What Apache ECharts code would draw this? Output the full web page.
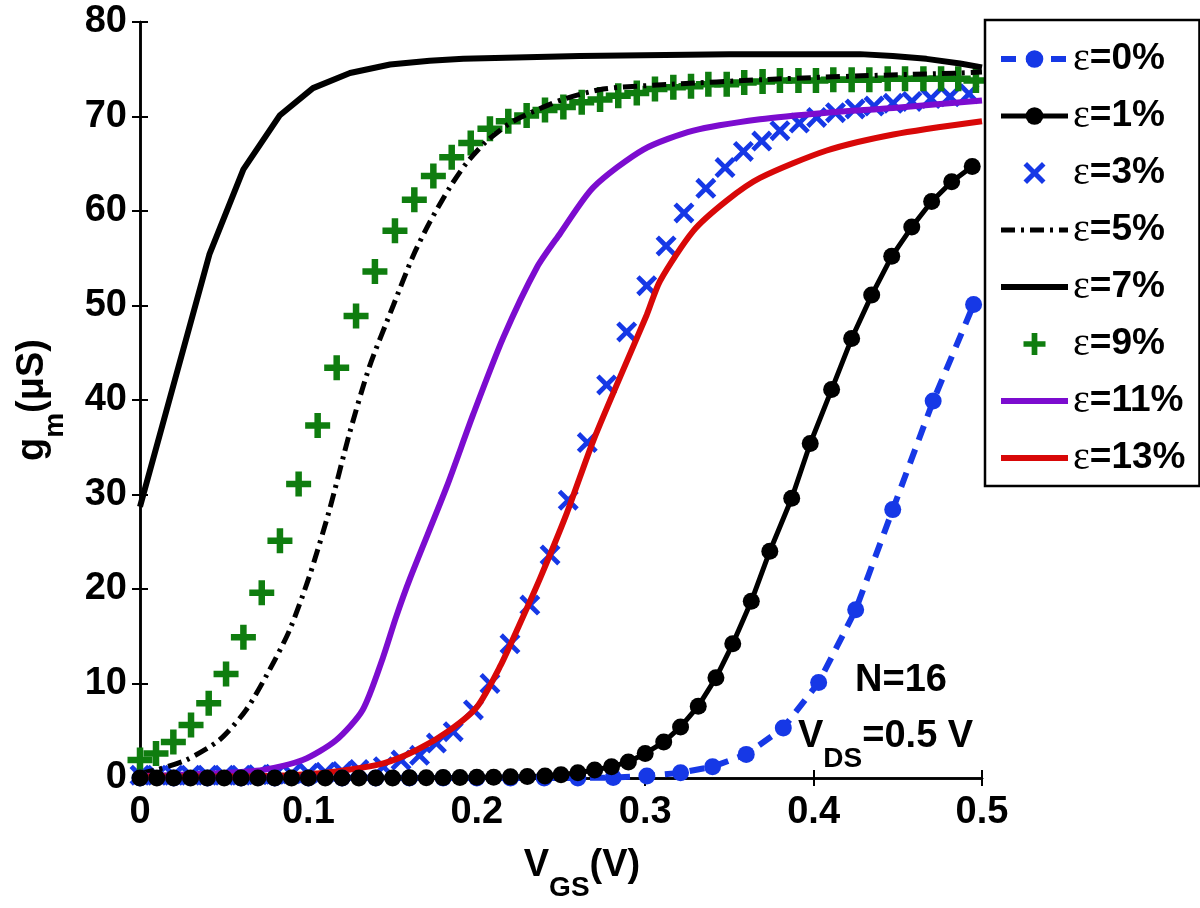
<!DOCTYPE html>
<html><head><meta charset="utf-8">
<script src="https://cdn.jsdelivr.net/npm/echarts@6/dist/echarts.min.js"></script>
<style>html,body{margin:0;padding:0;background:#fff}#c{width:1200px;height:908px}</style>
</head><body><div id="c"></div>
<script>
// ---------------- data ----------------
const seriesNames = ['ε=0%', 'ε=1%', 'ε=3%', 'ε=5%', 'ε=7%', 'ε=9%', 'ε=11%', 'ε=13%'];
const xTicks = ['0', '0.1', '0.2', '0.3', '0.4', '0.5'];
const yTicks = ['0', '10', '20', '30', '40', '50', '60', '70', '80'];

const eps0X = [0, 0.02, 0.04, 0.06, 0.08, 0.10, 0.12, 0.14, 0.16, 0.18, 0.20, 0.22, 0.24, 0.260, 0.281, 0.301, 0.321, 0.340, 0.360, 0.382, 0.403, 0.425, 0.447, 0.471, 0.495];
const eps0Y = [0, 0, 0, 0, 0, 0, 0, 0, 0, 0, 0, 0, 0, 0, 0.05, 0.2, 0.55, 1.2, 2.5, 5.3, 10.1, 17.8, 28.4, 39.9, 50.1];

const eps1X = [0, 0.01, 0.02, 0.03, 0.04, 0.05, 0.06, 0.07, 0.08, 0.09, 0.10, 0.11, 0.12, 0.13, 0.14, 0.15, 0.16, 0.17, 0.18, 0.19, 0.20, 0.21, 0.22, 0.23,
  0.2405, 0.25, 0.26, 0.27, 0.28, 0.29, 0.30, 0.311, 0.321, 0.3315, 0.342, 0.352, 0.363, 0.374, 0.387, 0.398, 0.4107, 0.4226, 0.4345, 0.4464, 0.4583, 0.4701, 0.482, 0.4942];
const eps1Y = [0, 0, 0, 0, 0, 0, 0, 0, 0, 0, 0, 0, 0, 0, 0, 0, 0.02, 0.03, 0.04, 0.05, 0.07, 0.09, 0.12, 0.15,
  0.2, 0.35, 0.56, 0.85, 1.2, 1.7, 2.6, 3.8, 5.4, 7.6, 10.6, 14.2, 18.7, 24.0, 29.6, 35.4, 41.1, 46.5, 51.1, 55.2, 58.3, 61.0, 63.1, 64.7];

const eps3X = [0, 0.01, 0.02, 0.03, 0.04, 0.05, 0.06, 0.07, 0.08, 0.09, 0.10, 0.11, 0.12, 0.13,
  0.1445, 0.155, 0.166, 0.176, 0.186, 0.198, 0.2078, 0.2197, 0.2315, 0.2435, 0.2543, 0.2656, 0.2771, 0.289, 0.3009, 0.3124,
  0.323, 0.336, 0.3474, 0.3583, 0.3692, 0.38, 0.3915, 0.4018, 0.413, 0.4246, 0.4359, 0.4472, 0.4584, 0.4697, 0.481, 0.4923];
const eps3Y = [0.3, 0.3, 0.3, 0.3, 0.3, 0.3, 0.3, 0.35, 0.4, 0.45, 0.5, 0.6, 0.7, 0.9,
  1.2, 1.9, 2.4, 3.7, 4.9, 7.2, 10.0, 14.2, 18.3, 23.6, 29.4, 35.5, 41.6, 47.2, 52.1, 56.3,
  59.8, 62.4, 64.6, 66.3, 67.4, 68.5, 69.3, 69.9, 70.4, 70.8, 71.1, 71.4, 71.6, 71.9, 72.1, 72.4];

const eps5X = [0, 0.0095, 0.0273, 0.047, 0.063, 0.0768, 0.0887, 0.1005, 0.1124, 0.1243, 0.1362, 0.1504, 0.1623, 0.172, 0.184, 0.194, 0.2059, 0.2217, 0.2494, 0.275, 0.315, 0.37, 0.428, 0.487, 0.5];
const eps5Y = [0.5, 0.85, 1.9, 4.0, 7.2, 11.4, 15.6, 21.3, 28.3, 36.4, 43.5, 50.0, 55.3, 58.8, 62.5, 65.1, 67.4, 69.5, 71.7, 72.9, 73.4, 73.9, 74.3, 74.6, 74.7];

const eps7X = [0, 0.0412, 0.0614, 0.0829, 0.1027, 0.1247, 0.1485, 0.172, 0.192, 0.261, 0.35, 0.4276, 0.447, 0.467, 0.487, 0.5];
const eps7Y = [28.7, 55.4, 64.4, 70.1, 73.0, 74.6, 75.5, 75.9, 76.1, 76.4, 76.6, 76.6, 76.4, 76.1, 75.6, 75.2];

const eps9X = [0, 0.0095, 0.0198, 0.0303, 0.0408, 0.0511, 0.0614, 0.0723, 0.0831, 0.0942, 0.1055, 0.1168, 0.1283, 0.1395, 0.1514, 0.1629,
  0.1742, 0.1851, 0.1964, 0.2078, 0.2187, 0.2296, 0.2405, 0.2514, 0.2623, 0.2732, 0.284, 0.295, 0.3058, 0.3167, 0.3272, 0.3375,
  0.3484, 0.3588, 0.3697, 0.38, 0.391, 0.4014, 0.4117, 0.4226, 0.4331, 0.444, 0.4543, 0.4652, 0.4757, 0.4859, 0.4964];
const eps9Y = [1.9, 2.6, 3.8, 5.6, 7.9, 11.0, 14.9, 19.6, 25.1, 31.1, 37.3, 43.4, 48.9, 53.6, 57.9, 61.2,
  63.7, 65.7, 67.2, 68.7, 69.5, 70.1, 70.7, 71.0, 71.5, 71.8, 72.2, 72.5, 72.9, 73.1, 73.2, 73.4,
  73.4, 73.6, 73.7, 73.8, 73.8, 73.8, 73.9, 73.9, 73.9, 74.0, 74.0, 74.0, 74.0, 74.0, 73.8];

const eps11X = [0, 0.047, 0.0729, 0.0966, 0.1164, 0.1322, 0.144, 0.152, 0.1603, 0.1821, 0.1979, 0.2157, 0.2356, 0.2494, 0.2692, 0.2989, 0.3286, 0.3682, 0.4078, 0.4473, 0.5];
const eps11Y = [0.2, 0.5, 0.85, 1.9, 4.0, 7.2, 12.6, 17.0, 21.1, 30.8, 38.5, 46.6, 54.0, 57.6, 62.5, 66.5, 68.5, 69.7, 70.4, 70.9, 71.7];

const eps13X = [0, 0.05, 0.09, 0.115, 0.1445, 0.1643, 0.184, 0.2, 0.2138, 0.2255, 0.2375, 0.2534, 0.2692, 0.285, 0.3009, 0.3088, 0.3286, 0.3484, 0.3682, 0.4078, 0.4473, 0.5];
const eps13Y = [0.15, 0.15, 0.3, 0.67, 1.55, 2.96, 5.07, 7.5, 11.8, 16.3, 21.1, 28.0, 35.7, 42.4, 49.0, 52.6, 57.9, 61.1, 63.5, 66.4, 68.1, 69.5];

// ---------------- helpers / styles ----------------
const zip = (xs, ys) => xs.map((x, i) => [x, ys[i]]);
const FONT = 'Liberation Sans';
const BLUE = '#1638e6', GREEN = '#0f7d0f', PURPLE = '#7c0ccf', RED = '#d80808', BLACK = '#000';
const PLUS = 'path://M3.7,0H6.3V3.7H10V6.3H6.3V10H3.7V6.3H0V3.7H3.7Z';
const CROSS = 'path://M0,1.6L1.6,0L5,3.4L8.4,0L10,1.6L6.6,5L10,8.4L8.4,10L5,6.6L1.6,10L0,8.4L3.4,5Z';
const richMain = { fontSize: 38, fontWeight: 'bold', fontFamily: FONT, color: '#000', lineHeight: 72, verticalAlign: 'middle' };
const richSub = { fontSize: 28, fontWeight: 'bold', fontFamily: FONT, color: '#000', lineHeight: 28, verticalAlign: 'bottom' };

const axisLineStyle = { lineStyle: { color: '#000', width: 2.5 } };
const tickStyle = { show: true, inside: true, length: 8, lineStyle: { color: '#000', width: 2 } };
const labelStyle = { fontSize: 38, fontWeight: 'bold', fontFamily: FONT, color: '#000' };

const chart = echarts.init(document.getElementById('c'), null, { renderer: 'canvas' });
chart.setOption({
  animation: false,
  backgroundColor: '#fff',
  grid: { left: 140, right: 218, top: 22, bottom: 130, containLabel: false },
  xAxis: [{
    type: 'value', min: 0, max: 0.5, interval: 0.1, position: 'bottom',
    axisLine: axisLineStyle, axisTick: tickStyle, splitLine: { show: false },
    axisLabel: Object.assign({ margin: 16, formatter: (v) => xTicks[Math.round(v * 10)] }, labelStyle),
    name: '{v|V}{s|GS}{v|(V)}', nameLocation: 'middle', nameGap: 52,
    nameTextStyle: { padding: [0, 0, 0, 42], rich: { v: richMain, s: richSub } }
  }, {
    type: 'value', min: 0, max: 0.5, interval: 0.1, position: 'top',
    axisLine: axisLineStyle, axisTick: tickStyle, axisLabel: { show: false }, splitLine: { show: false }
  }],
  yAxis: [{
    type: 'value', min: 0, max: 80, interval: 10, position: 'left',
    axisLine: axisLineStyle, axisTick: tickStyle, splitLine: { show: false },
    axisLabel: Object.assign({ margin: 13, formatter: (v) => yTicks[Math.round(v / 10)] }, labelStyle),
    name: '{v|g}{s|m}{v|(μS)}', nameLocation: 'middle', nameRotate: 90, nameGap: 71,
    nameTextStyle: { rich: { v: richMain, s: richSub } }
  }, {
    type: 'value', min: 0, max: 80, interval: 10, position: 'right',
    axisLine: axisLineStyle, axisTick: tickStyle, axisLabel: { show: false }, splitLine: { show: false }
  }],
  legend: {
    data: [
      { name: seriesNames[0] },
      { name: seriesNames[1] },
      { name: seriesNames[2] },
      { name: seriesNames[3], itemStyle: { opacity: 0 } },
      { name: seriesNames[4], itemStyle: { opacity: 0 } },
      { name: seriesNames[5] },
      { name: seriesNames[6], itemStyle: { opacity: 0 } },
      { name: seriesNames[7], itemStyle: { opacity: 0 } }
    ],
    orient: 'vertical', left: 985, top: 20,
    padding: [19, 14, 8, 13],
    itemWidth: 67, itemHeight: 22, itemGap: 17,
    lineStyle: { width: 'inherit' },
    backgroundColor: '#fff', borderColor: '#000', borderWidth: 2.5, borderRadius: 0,
    formatter: (n) => '{e|ε}{t|' + n.slice(1) + '}',
    textStyle: {
      rich: {
        e: { fontFamily: 'Liberation Serif', fontSize: 40, color: '#000', lineHeight: 36, verticalAlign: 'middle' },
        t: { fontFamily: FONT, fontWeight: 'bold', fontSize: 37, color: '#000', lineHeight: 36, verticalAlign: 'middle' }
      }
    },
    z: 20
  },
  graphic: [
    { type: 'text', x: 855, y: 681, z: 30,
      style: { text: 'N=16', font: 'bold 38px "Liberation Sans"', fill: '#000', align: 'left', verticalAlign: 'middle' } },
    { type: 'text', x: 798, y: 737, z: 30,
      style: { text: '{v|V}{s|DS}{v|=0.5 V}', rich: { v: richMain, s: richSub }, align: 'left', verticalAlign: 'middle' } }
  ],
  series: [
    { name: seriesNames[0], type: 'line', data: zip(eps0X, eps0Y), color: BLUE,
      symbol: 'circle', symbolSize: 17, showSymbol: true,
      lineStyle: { width: 6, type: [15, 10], color: BLUE }, itemStyle: { color: BLUE, opacity: 1 } },
    { name: seriesNames[1], type: 'line', data: zip(eps1X, eps1Y), color: BLACK,
      symbol: 'circle', symbolSize: 17, showSymbol: true,
      lineStyle: { width: 5, color: BLACK }, itemStyle: { color: BLACK, opacity: 1 } },
    { name: seriesNames[2], type: 'scatter', data: zip(eps3X, eps3Y), color: BLUE,
      symbol: CROSS, symbolSize: 21, itemStyle: { color: BLUE, opacity: 1 } },
    { name: seriesNames[3], type: 'line', data: zip(eps5X, eps5Y), color: BLACK, symbol: 'none',
      smooth: 0.25,
      lineStyle: { width: 5, type: [14, 6, 3, 6], color: BLACK } },
    { name: seriesNames[4], type: 'line', data: zip(eps7X, eps7Y), color: BLACK, symbol: 'none',
      lineStyle: { width: 6, color: BLACK } },
    { name: seriesNames[5], type: 'scatter', data: zip(eps9X, eps9Y), color: GREEN,
      symbol: PLUS, symbolSize: 25, itemStyle: { color: GREEN, opacity: 1 } },
    { name: seriesNames[6], type: 'line', data: zip(eps11X, eps11Y), color: PURPLE, symbol: 'none',
      smooth: 0.25,
      lineStyle: { width: 6, color: PURPLE } },
    { name: seriesNames[7], type: 'line', data: zip(eps13X, eps13Y), color: RED, symbol: 'none',
      smooth: 0.25,
      lineStyle: { width: 6, color: RED } }
  ]
});
</script></body></html>
